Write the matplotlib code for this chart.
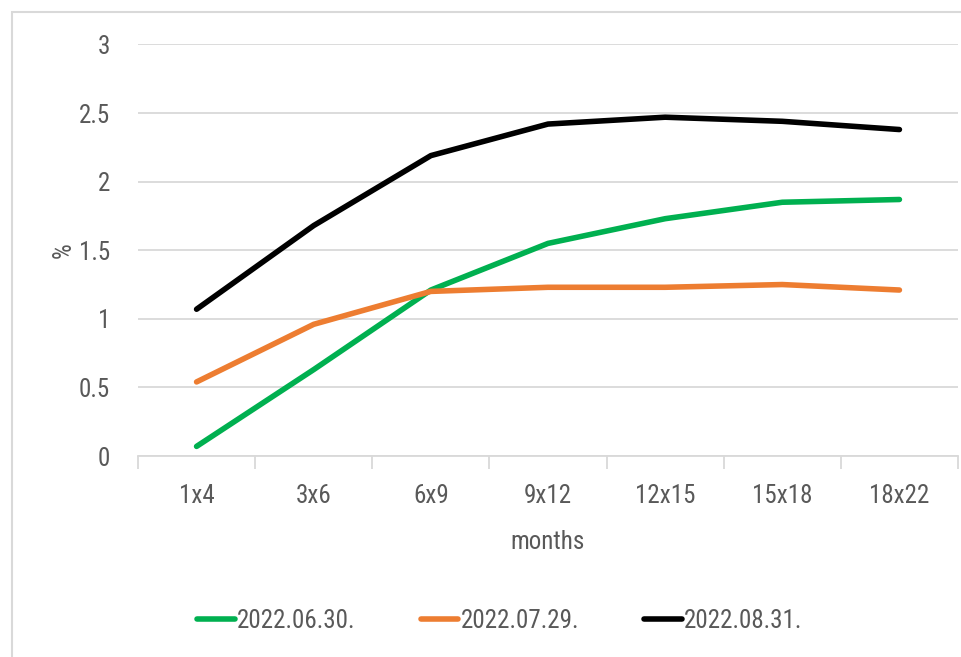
import matplotlib.pyplot as plt
from matplotlib.patches import Rectangle

# Forward rate curves by tenor
tenors = ['1x4', '3x6', '6x9', '9x12', '12x15', '15x18', '18x22']
jun_30 = [0.07, 0.63, 1.21, 1.55, 1.73, 1.85, 1.87]
jul_29 = [0.54, 0.96, 1.20, 1.23, 1.23, 1.25, 1.21]
aug_31 = [1.07, 1.68, 2.19, 2.42, 2.47, 2.44, 2.38]
labels = ['2022.06.30.', '2022.07.29.', '2022.08.31.']

text_color = '#595959'
grid_color = '#d9d9d9'
plt.rcParams['font.family'] = ['Roboto Condensed', 'DejaVu Sans Condensed',
                               'Liberation Sans Narrow', 'DejaVu Sans']
plt.rcParams['font.stretch'] = 'condensed'

fig = plt.figure(figsize=(9.62, 6.57), dpi=100)
ax = fig.add_axes([138 / 962, 1 - 456 / 657, 820 / 962, 411.5 / 657])

# outer chart frame
fig.patches.append(Rectangle((12 / 962, -0.1), 1.2, 1.1 - 12 / 657,
                             transform=fig.transFigure, fill=False,
                             edgecolor=grid_color, linewidth=1.5))

x = range(len(tenors))
series = [(jun_30, '#00b050'), (jul_29, '#ed7d31'), (aug_31, '#000000')]
for vals, c in series:
    ax.plot(x, vals, color=c, linewidth=4, solid_capstyle='round',
            solid_joinstyle='round')

ax.set_xlim(-0.5, len(tenors) - 0.5)
ax.set_ylim(0, 3)
ax.set_yticks([0, 0.5, 1, 1.5, 2, 2.5, 3])
ax.set_yticklabels(['0', '0.5', '1', '1.5', '2', '2.5', '3'])
ax.set_xticks(list(x))
ax.set_xticklabels(tenors)
ax.set_xticks([i - 0.5 for i in range(len(tenors) + 1)], minor=True)

ax.grid(axis='y', color=grid_color, linewidth=1.3)
ax.set_axisbelow(True)
for s in ['top', 'right', 'left']:
    ax.spines[s].set_visible(False)
ax.spines['bottom'].set_color(grid_color)
ax.spines['bottom'].set_linewidth(1.3)

ax.tick_params(axis='y', length=0, pad=20, labelsize=18, labelcolor=text_color)
ax.tick_params(axis='x', which='major', length=0, pad=20, labelsize=18,
               labelcolor=text_color)
ax.tick_params(axis='x', which='minor', length=9, width=1.3, color=grid_color)

ax.set_xlabel('months', fontsize=18, color=text_color, labelpad=16)
ax.set_ylabel('%', fontsize=18, color=text_color, labelpad=2)

leg = fig.legend(labels, loc='center', bbox_to_anchor=(500 / 962, 1 - 621 / 657),
                 ncol=3, frameon=False, fontsize=18, handlelength=1.5,
                 handletextpad=0.1, columnspacing=2.6)
for t in leg.get_texts():
    t.set_color(text_color)

fig.savefig('out.png', dpi=100)
